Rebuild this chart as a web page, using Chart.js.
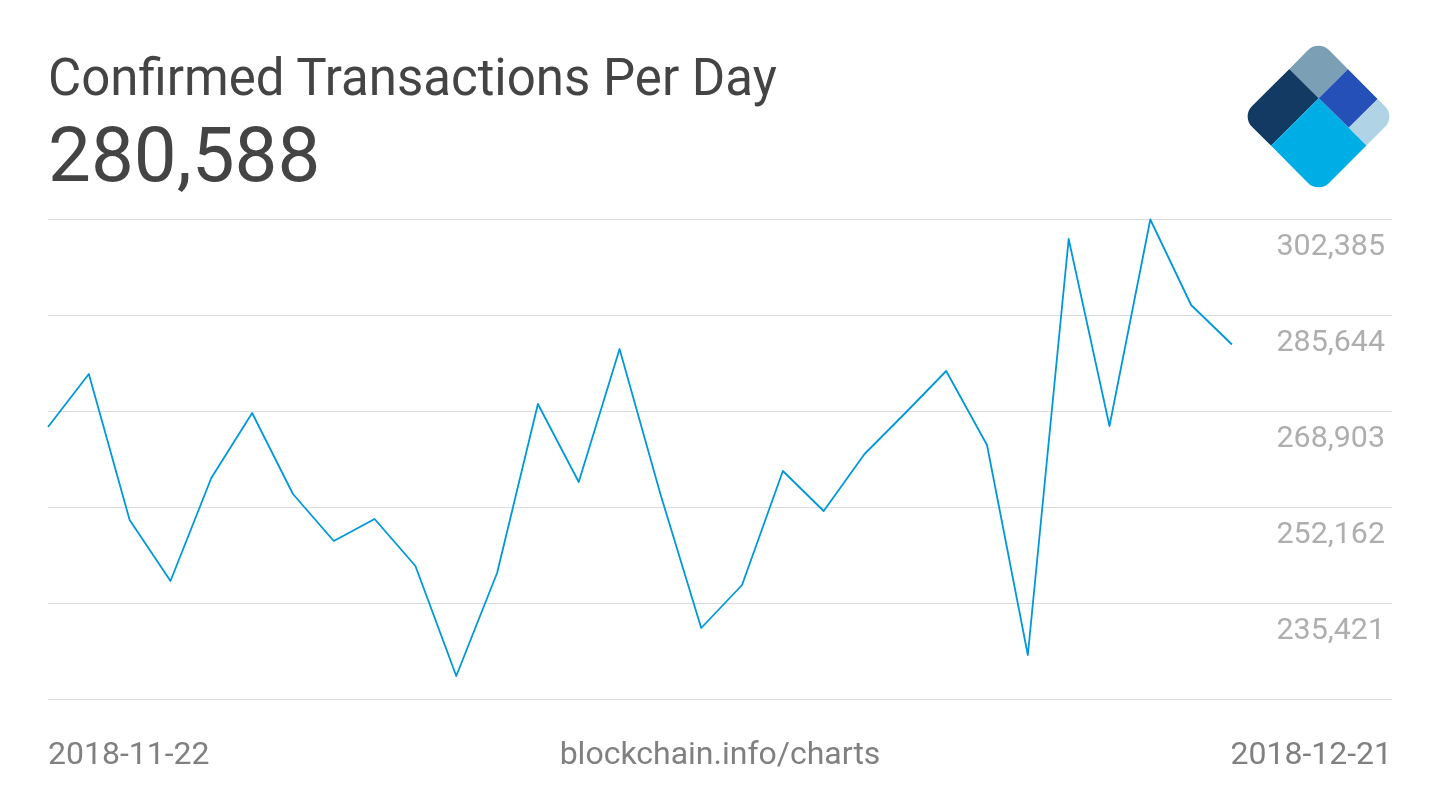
<!DOCTYPE html>
<html>
<head>
<meta charset="utf-8">
<title>Confirmed Transactions Per Day</title>
<script src="https://cdn.jsdelivr.net/npm/chart.js@4"></script>
<style>
    html, body { margin: 0; padding: 0; background: #fff; }
    #wrap { position: relative; width: 1440px; height: 810px; overflow: hidden; font-family: Roboto, sans-serif; }
    #wrap canvas { position: absolute; left: 0; top: 0; }
    .txt { position: absolute; white-space: nowrap; line-height: 1; }
    #title { left: 48px; top: 52px; font-size: 51px; color: #444; }
    #latest { left: 48px; top: 117px; font-size: 76.3px; color: #444; }
    .foot { top: 737px; font-size: 32px; color: #808080; }
    #logo { position: absolute; left: 0; top: 0; }
</style>
</head>
<body>
<div id="wrap">
    <canvas id="txChart" width="1440" height="810"></canvas>
    <div class="txt" id="title">Confirmed Transactions Per Day</div>
    <div class="txt" id="latest">280,588</div>
    <div class="txt foot" id="dateStart" style="left:48px">2018-11-22</div>
    <div class="txt foot" id="source" style="left:720px;transform:translateX(-50%)">blockchain.info/charts</div>
    <div class="txt foot" id="dateEnd" style="right:48px">2018-12-21</div>
    <svg id="logo" width="1440" height="210">
        <defs>
            <clipPath id="diamond">
                <rect x="1264" y="62" width="109" height="109" rx="15" transform="rotate(45 1318.5 116.5)"/>
            </clipPath>
        </defs>
        <g clip-path="url(#diamond)">
            <polygon fill="#7b9fb4" points="1318.7,98.3 1289.3,69 1318.5,39 1348,69"/>
            <polygon fill="#123a63" points="1318.7,98.3 1289.3,69 1241,116.5 1271,145.7"/>
            <polygon fill="#2550b8" points="1318.7,98.3 1348,69 1377.7,99 1348.7,127.7"/>
            <polygon fill="#b0d3e6" points="1377.7,99 1396,116.5 1366.7,145.7 1348.7,127.7"/>
            <polygon fill="#00aee6" points="1318.7,98.3 1348.7,127.7 1366.7,145.7 1318.5,194 1271,145.7"/>
        </g>
    </svg>
</div>
<script>
// daily values, 2018-11-22 .. 2018-12-21
const days = ['11-22','11-23','11-24','11-25','11-26','11-27','11-28','11-29','11-30','12-01',
    '12-02','12-03','12-04','12-05','12-06','12-07','12-08','12-09','12-10','12-11',
    '12-12','12-13','12-14','12-15','12-16','12-17','12-18','12-19','12-20','12-21'];
const confirmed = [266200, 275443, 249982, 239345, 257306, 268642, 254516, 246320, 250157, 241961,
    222778, 240740, 270211, 256609, 279802, 254516, 231149, 238647, 258527, 251552,
    261492, 268642, 275966, 263061, 226440, 298984, 266374, 302385, 287475, 280588];
const yTicks = [218680, 235421, 252162, 268903, 285644, 302385];

const points = confirmed.map((v, i) => ({ x: i, y: v }));

new Chart(document.getElementById('txChart'), {
    type: 'line',
    data: {
        labels: days,
        datasets: [{
            data: points,
            borderColor: '#0098db',
            borderWidth: 1.8,
            borderJoinStyle: 'round',
            pointRadius: 0,
            tension: 0,
            fill: false,
            clip: false
        }]
    },
    options: {
        responsive: false,
        animation: false,
        events: [],
        layout: { padding: { left: 48, right: 48, top: 219.5, bottom: 110.5 } },
        plugins: { legend: { display: false }, tooltip: { enabled: false } },
        scales: {
            x: {
                type: 'linear',
                display: false,
                min: 0,
                max: 32.92  // the line stops short of the gridlines' right end
            },
            y: {
                position: 'right',
                min: yTicks[0],
                max: yTicks[yTicks.length - 1],
                afterBuildTicks: axis => { axis.ticks = yTicks.map(value => ({ value })); },
                afterFit: axis => { axis.width = 0; },  // labels sit inside the plot
                border: { display: false },
                grid: { color: '#dcdcdc', lineWidth: 1, drawTicks: false },
                ticks: {
                    mirror: true,
                    padding: -7,
                    labelOffset: 27.5,
                    autoSkip: false,
                    color: '#aeaeae',
                    font: { family: 'Roboto', size: 30.4 },
                    callback: v => v === yTicks[0] ? '' : v.toLocaleString('en-US')
                }
            }
        }
    }
});
</script>
</body>
</html>
